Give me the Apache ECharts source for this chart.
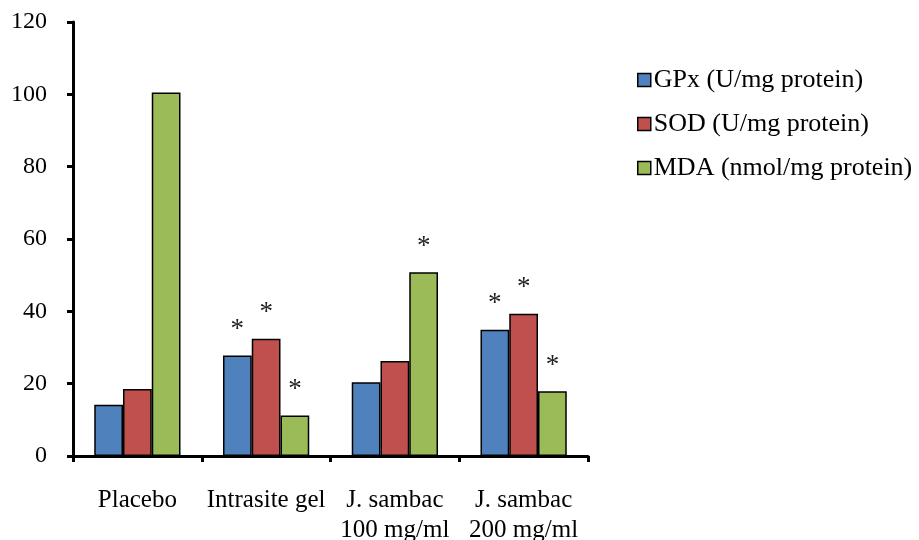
<!DOCTYPE html>
<html>
<head>
<meta charset="utf-8">
<script src="https://cdn.jsdelivr.net/npm/echarts@6/dist/echarts.min.js"></script>
<style>
  html, body { margin: 0; padding: 0; background: #fff; }
  #chart { width: 919px; height: 540px; }
</style>
</head>
<body>
<div id="chart"></div>
<script>
const categories = ['Placebo', 'Intrasite gel', 'J. sambac\n100 mg/ml', 'J. sambac\n200 mg/ml']
const seriesNames = ['GPx (U/mg protein)', 'SOD (U/mg protein)', 'MDA (nmol/mg protein)']
const gpx = [14.2, 27.8, 20.4, 34.9]
const sod = [18.5, 32.4, 26.3, 39.3]
const mda = [100.5, 11.2, 50.8, 17.9]
// significance marks above bars
const gpxStars = ['', '*', '', '*']
const sodStars = ['', '*', '', '*']
const mdaStars = ['', '*', '*', '*']
const colors = ['#4F81BD', '#C0504D', '#9BBB59']

const font = 'Liberation Serif, Times New Roman, serif'

const makeSeries = (name, values, stars, color) => ({
  name,
  type: 'bar',
  barCategoryGap: '33%',
  barGap: '0%',
  itemStyle: { color, borderColor: '#000', borderWidth: 1.5 },
  data: values.map((v, i) => ({
    value: v,
    label: {
      show: stars[i] !== '',
      position: 'top',
      distance: 12,
      formatter: stars[i],
      fontFamily: font,
      fontSize: 27,
      color: '#222'
    }
  }))
})

const chart = echarts.init(document.getElementById('chart'))
chart.setOption({
  animation: false,
  backgroundColor: '#fff',
  color: colors,
  grid: { left: 73, right: 331, top: 22, bottom: 84, outerBoundsMode: 'none' },
  legend: {
    orient: 'vertical',
    left: 632,
    top: 62,
    itemGap: 18,
    itemWidth: 13,
    itemHeight: 13,
    icon: 'rect',
    itemStyle: { borderColor: '#000', borderWidth: 1.5 },
    textStyle: { fontFamily: font, fontSize: 26, color: '#000', padding: [0, 0, 0, -2] },
    data: seriesNames
  },
  xAxis: {
    type: 'category',
    data: categories,
    axisLine: { lineStyle: { color: '#000', width: 3 } },
    axisTick: { show: true, interval: 0, length: 6, lineStyle: { color: '#000', width: 3 } },
    axisLabel: {
      interval: 0,
      hideOverlap: false,
      fontFamily: font,
      fontSize: 25,
      color: '#000',
      lineHeight: 30,
      margin: 29
    }
  },
  yAxis: {
    type: 'value',
    min: 0,
    max: 120,
    interval: 20,
    axisLine: { show: true, lineStyle: { color: '#000', width: 3 } },
    axisTick: { show: true, length: 6, lineStyle: { color: '#000', width: 3 } },
    axisLabel: { fontFamily: font, fontSize: 24, color: '#000', margin: 26 },
    splitLine: { show: false }
  },
  series: [
    makeSeries(seriesNames[0], gpx, gpxStars, colors[0]),
    makeSeries(seriesNames[1], sod, sodStars, colors[1]),
    makeSeries(seriesNames[2], mda, mdaStars, colors[2])
  ]
})
</script>
</body>
</html>
